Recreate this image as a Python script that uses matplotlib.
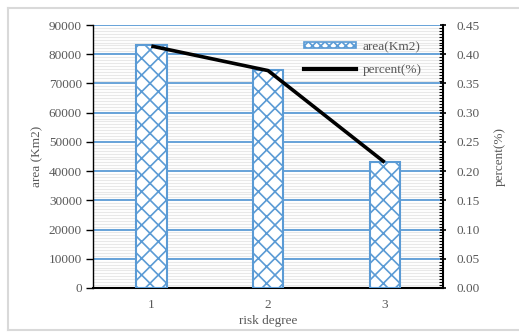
import matplotlib
matplotlib.use("Agg")
import matplotlib.pyplot as plt
from matplotlib.patches import Patch
from matplotlib.lines import Line2D
from matplotlib.ticker import MultipleLocator

categories = ["1", "2", "3"]
area = [83000, 74600, 43100]
percent = [0.414, 0.372, 0.215]

blue = "#5B9BD5"
gray_text = "#595959"
plt.rcParams['font.family'] = ['Liberation Serif', 'DejaVu Serif']
plt.rcParams['hatch.color'] = blue
plt.rcParams['hatch.linewidth'] = 1.2

fig = plt.figure(figsize=(5.19, 3.32), dpi=100)
ax = fig.add_axes([93/519, 1-288/332, 350/519, 263/332])
x = list(range(len(categories)))
ax.bar(x, area, width=0.26, color="white", edgecolor=blue, linewidth=1.5, hatch="xx", zorder=3)
ax.set_xlim(-0.5, 2.5)
ax.set_ylim(0, 90000)
ax.yaxis.set_major_locator(MultipleLocator(10000))
ax.yaxis.set_minor_locator(MultipleLocator(1000))
ax.set_axisbelow(True)
ax.grid(which='minor', axis='y', color="#E8E8E8", linewidth=0.8, zorder=0)
ax.grid(which='major', axis='y', color=blue, linewidth=1.3, zorder=1)
ax.set_xticks(x)
ax.set_xticklabels(categories)
ax.tick_params(axis='x', length=0, pad=8, labelsize=9.5, labelcolor=gray_text)
ax.tick_params(axis='y', which='major', length=5, width=1, direction='out', labelsize=9.5, labelcolor=gray_text, pad=3)
ax.tick_params(axis='y', which='minor', length=0)
ax.spines['top'].set_visible(False)
ax.spines['left'].set_linewidth(1.0)
ax.spines['bottom'].set_linewidth(1.5)
ax.spines['right'].set_visible(False)
ax.set_ylabel("area (Km2)", fontsize=9.5, color=gray_text, labelpad=4)
ax.set_xlabel("risk degree", fontsize=9.5, color=gray_text, labelpad=3)

ax2 = ax.twinx()
ax2.plot(x, percent, color="black", linewidth=2.6, zorder=5, solid_capstyle='butt')
ax2.set_ylim(0, 0.45)
ax2.yaxis.set_major_locator(MultipleLocator(0.05))
ax2.yaxis.set_minor_locator(MultipleLocator(0.005))
ax2.yaxis.set_major_formatter(matplotlib.ticker.FormatStrFormatter('%.2f'))
ax2.tick_params(axis='y', which='major', length=4, width=1.2, direction='inout', labelsize=9.5, labelcolor=gray_text, pad=8)
ax2.tick_params(axis='y', which='minor', length=3, width=0.8, direction='in')
ax2.spines['top'].set_visible(False)
ax2.spines['left'].set_visible(False)
ax2.spines['bottom'].set_visible(False)
ax2.spines['right'].set_linewidth(1.5)
ax2.set_ylabel("percent(%)", fontsize=9.5, color=gray_text, labelpad=10)

handles = [Patch(facecolor="white", edgecolor=blue, hatch="xxxx", linewidth=1.2, label="area(Km2)"),
           Line2D([0], [0], color="black", linewidth=3, label="percent(%)")]
ax2.legend(handles=handles, loc='upper right', bbox_to_anchor=(0.955, 0.96), frameon=False,
           fontsize=9.5, handlelength=4.0, handleheight=0.4, labelcolor=gray_text, labelspacing=0.85,
           handletextpad=0.5, borderaxespad=0)

# outer frame
fig.add_artist(Line2D([8/519, 8/519], [1-8/332, 1-330/332], color="#D9D9D9", linewidth=1.5))
fig.add_artist(Line2D([8/519, 1], [1-8/332, 1-8/332], color="#D9D9D9", linewidth=1.5))
fig.add_artist(Line2D([8/519, 1], [1-330/332, 1-330/332], color="#D9D9D9", linewidth=1.5))

fig.savefig("out.png", dpi=100)
